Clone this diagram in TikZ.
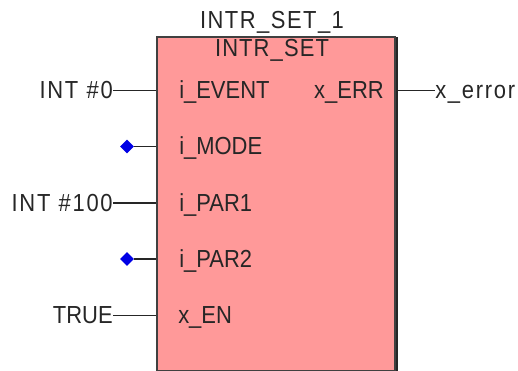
\documentclass[tikz,border=0pt]{standalone}
\usepackage{fontspec}
\setmainfont[FakeStretch=0.89]{Liberation Sans}
\usetikzlibrary{shapes.geometric}

\newcommand{\spread}[1]{\addfontfeature{LetterSpace=#1}}

\tikzset{
    pintext/.style={inner sep=0pt,text height=12pt,text depth=0pt,font=\fontsize{18.5}{20}\selectfont,text=black!85},
    wire/.style={line width=1.25pt,black!85},
    openpin/.style={diamond,fill=blue!90!black,inner sep=0pt,minimum size=10.5pt}
}

\begin{document}
\begin{tikzpicture}[x=0.75pt,y=-0.75pt]
\useasboundingbox (0,0) rectangle (518,371);

% Draw the function block
\fill[black!85] (395,37) rectangle (398,371);
\node[draw=black!75,line width=1.25pt,fill=red!40!white,minimum width=178.5pt,minimum height=250.5pt,inner sep=0pt,anchor=north west] (block) at (156,36) {};

% Instance and type names
\node[pintext] (instname) at (272,20) {\spread{6}INTR\_SET\_1};
\node[pintext] (typename) at (272,48) {\spread{4.5}INTR\_SET};

% Inputs of the block
\node[pintext,anchor=west] (event) at (179,90.5) {i\_EVENT};
\node[pintext,anchor=west] (mode) at (179,146.5) {i\_MODE};
\node[pintext,anchor=west] (parone) at (179,203) {i\_PAR1};
\node[pintext,anchor=west] (partwo) at (179,259) {i\_PAR2};
\node[pintext,anchor=west] (enable) at (178,315.5) {x\_EN};

% Output of the block
\node[pintext,anchor=east] (err) at (384,90.5) {x\_ERR};

% Values on the left
\node[pintext,anchor=east] (zero) at (113,90.5) {\spread{7}INT\,\,\#0};
\node[openpin] (modepin) at (127,146.5) {};
\node[pintext,anchor=east] (hundred) at (113,203) {\spread{7}INT\,\,\#100};
\node[openpin] (partwopin) at (127,259) {};
\node[pintext,anchor=east] (true) at (113,315.5) {TRUE};

% Variable on the right
\node[pintext,anchor=west] (error) at (435,90.5) {\spread{7}x\_error};

% Draw the wires
\draw[wire] (zero.east) -- (block.west |- zero.east);
\draw[wire] (modepin.east) -- (block.west |- modepin.east);
\draw[wire] (hundred.east) -- (block.west |- hundred.east);
\draw[wire] (partwopin.east) -- (block.west |- partwopin.east);
\draw[wire] (true.east) -- (block.west |- true.east);
\draw[wire] (block.east |- error.west) -- (error.west);

\end{tikzpicture}
\end{document}
